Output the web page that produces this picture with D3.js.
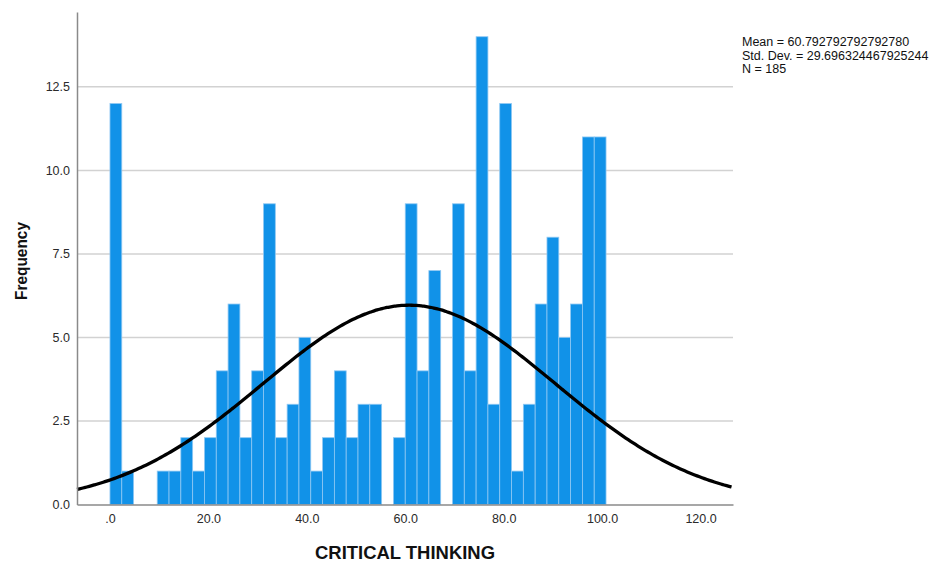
<!DOCTYPE html>
<html>
<head>
<meta charset="utf-8">
<script src="https://cdn.jsdelivr.net/npm/d3@7"></script>
<style>
    body { margin: 0; background: #fff; }
    text { font-family: "Liberation Sans", Arial, sans-serif; }
</style>
</head>
<body>
<div id="chart"></div>
<script>
const WIDTH = 933;
const HEIGHT = 563;

// histogram counts, bins of width 2.4 starting at 0
const binStart = 0;
const binWidth = 2.4;
const counts = [12, 1, 0, 0, 1, 1, 2, 1, 2, 4, 6, 2, 4, 9, 2, 3, 5, 1, 2, 4, 2,
    3, 3, 0, 2, 9, 4, 7, 0, 9, 4, 14, 3, 12, 1, 3, 6, 8, 5, 6, 11, 11];

const xTicks = [0, 20, 40, 60, 80, 100, 120];
const xTickLabels = [".0", "20.0", "40.0", "60.0", "80.0", "100.0", "120.0"];
const yTicks = [0, 2.5, 5, 7.5, 10, 12.5];
const yTickLabels = ["0.0", "2.5", "5.0", "7.5", "10.0", "12.5"];

const stats = {mean: 60.792792792792780, sd: 29.696324467925244, n: 185};
const statLines = ["Mean = 60.792792792792780", "Std. Dev. = 29.696324467925244", "N = 185"];

const plot = {left: 77, right: 733, top: 12, bottom: 504.5};

const svg = d3.select("#chart").append("svg")
    .attr("width", WIDTH)
    .attr("height", HEIGHT);

const x = d3.scaleLinear()
    .domain([-6.7, 126.6])
    .range([plot.left, plot.right]);

const y = d3.scaleLinear()
    .domain([0, 14.74])
    .range([plot.bottom, plot.top]);

// grid lines
svg.append("g").selectAll("line")
    .data(yTicks.filter(d => d > 0))
    .enter().append("line")
    .attr("x1", plot.left).attr("x2", plot.right)
    .attr("y1", d => y(d)).attr("y2", d => y(d))
    .attr("stroke", "#d2d2d2")
    .attr("stroke-width", 1.5);

// bars
const bins = counts.map((c, i) => ({x0: binStart + i * binWidth, x1: binStart + (i + 1) * binWidth, value: c}));

svg.append("g").selectAll("rect")
    .data(bins.filter(d => d.value > 0))
    .enter().append("rect")
    .attr("x", d => x(d.x0))
    .attr("width", d => x(d.x1) - x(d.x0))
    .attr("y", d => y(d.value))
    .attr("height", d => y(0) - y(d.value))
    .attr("fill", "#1192e8")
    .attr("stroke", "#8fc8f3")
    .attr("stroke-width", 0.8);

// normal curve
const factor = stats.n * binWidth / (stats.sd * Math.sqrt(2 * Math.PI));
const curveX = d3.range(x.domain()[0], x.domain()[1] + 0.01, 0.5);
const curve = curveX.map(v => [v, factor * Math.exp(-0.5 * Math.pow((v - stats.mean) / stats.sd, 2))]);

svg.append("path")
    .datum(curve)
    .attr("fill", "none")
    .attr("stroke", "#000")
    .attr("stroke-width", 3.3)
    .attr("d", d3.line().x(d => x(d[0])).y(d => y(d[1])).curve(d3.curveBasis));

// axes
const xAxis = d3.axisBottom(x)
    .tickValues(xTicks)
    .tickSize(0)
    .tickPadding(10)
    .tickFormat((d, i) => xTickLabels[i]);

const yAxis = d3.axisLeft(y)
    .tickValues(yTicks)
    .tickSize(0)
    .tickPadding(7)
    .tickFormat((d, i) => yTickLabels[i]);

const xAxisContainer = svg.append("g")
    .attr("transform", "translate(0," + plot.bottom + ")")
    .call(xAxis);

const yAxisContainer = svg.append("g")
    .attr("transform", "translate(" + plot.left + ",0)")
    .call(yAxis);

[xAxisContainer, yAxisContainer].forEach(function (g) {
    g.select(".domain").attr("stroke", "#8a8a8a").attr("stroke-width", 1.5);
    g.selectAll("text")
        .style("font-family", "'Liberation Sans', Arial, sans-serif")
        .style("font-size", "12.5px")
        .attr("fill", "#2a2a2a");
});

// axis titles
svg.append("text")
    .attr("x", 405)
    .attr("y", 559)
    .attr("text-anchor", "middle")
    .attr("font-size", "18px")
    .attr("font-weight", "bold")
    .attr("fill", "#111")
    .attr("textLength", 180)
    .attr("lengthAdjust", "spacingAndGlyphs")
    .text("CRITICAL THINKING");

svg.append("text")
    .attr("transform", "translate(27,261) rotate(-90)")
    .attr("text-anchor", "middle")
    .attr("font-size", "17px")
    .attr("font-weight", "bold")
    .attr("fill", "#111")
    .attr("textLength", 78)
    .attr("lengthAdjust", "spacingAndGlyphs")
    .text("Frequency");

// stats box
svg.append("g").selectAll("text")
    .data(statLines)
    .enter().append("text")
    .attr("x", 742)
    .attr("y", (d, i) => 46 + i * 13.5)
    .attr("font-size", "12.5px")
    .attr("fill", "#111")
    .text(d => d);
</script>
</body>
</html>
